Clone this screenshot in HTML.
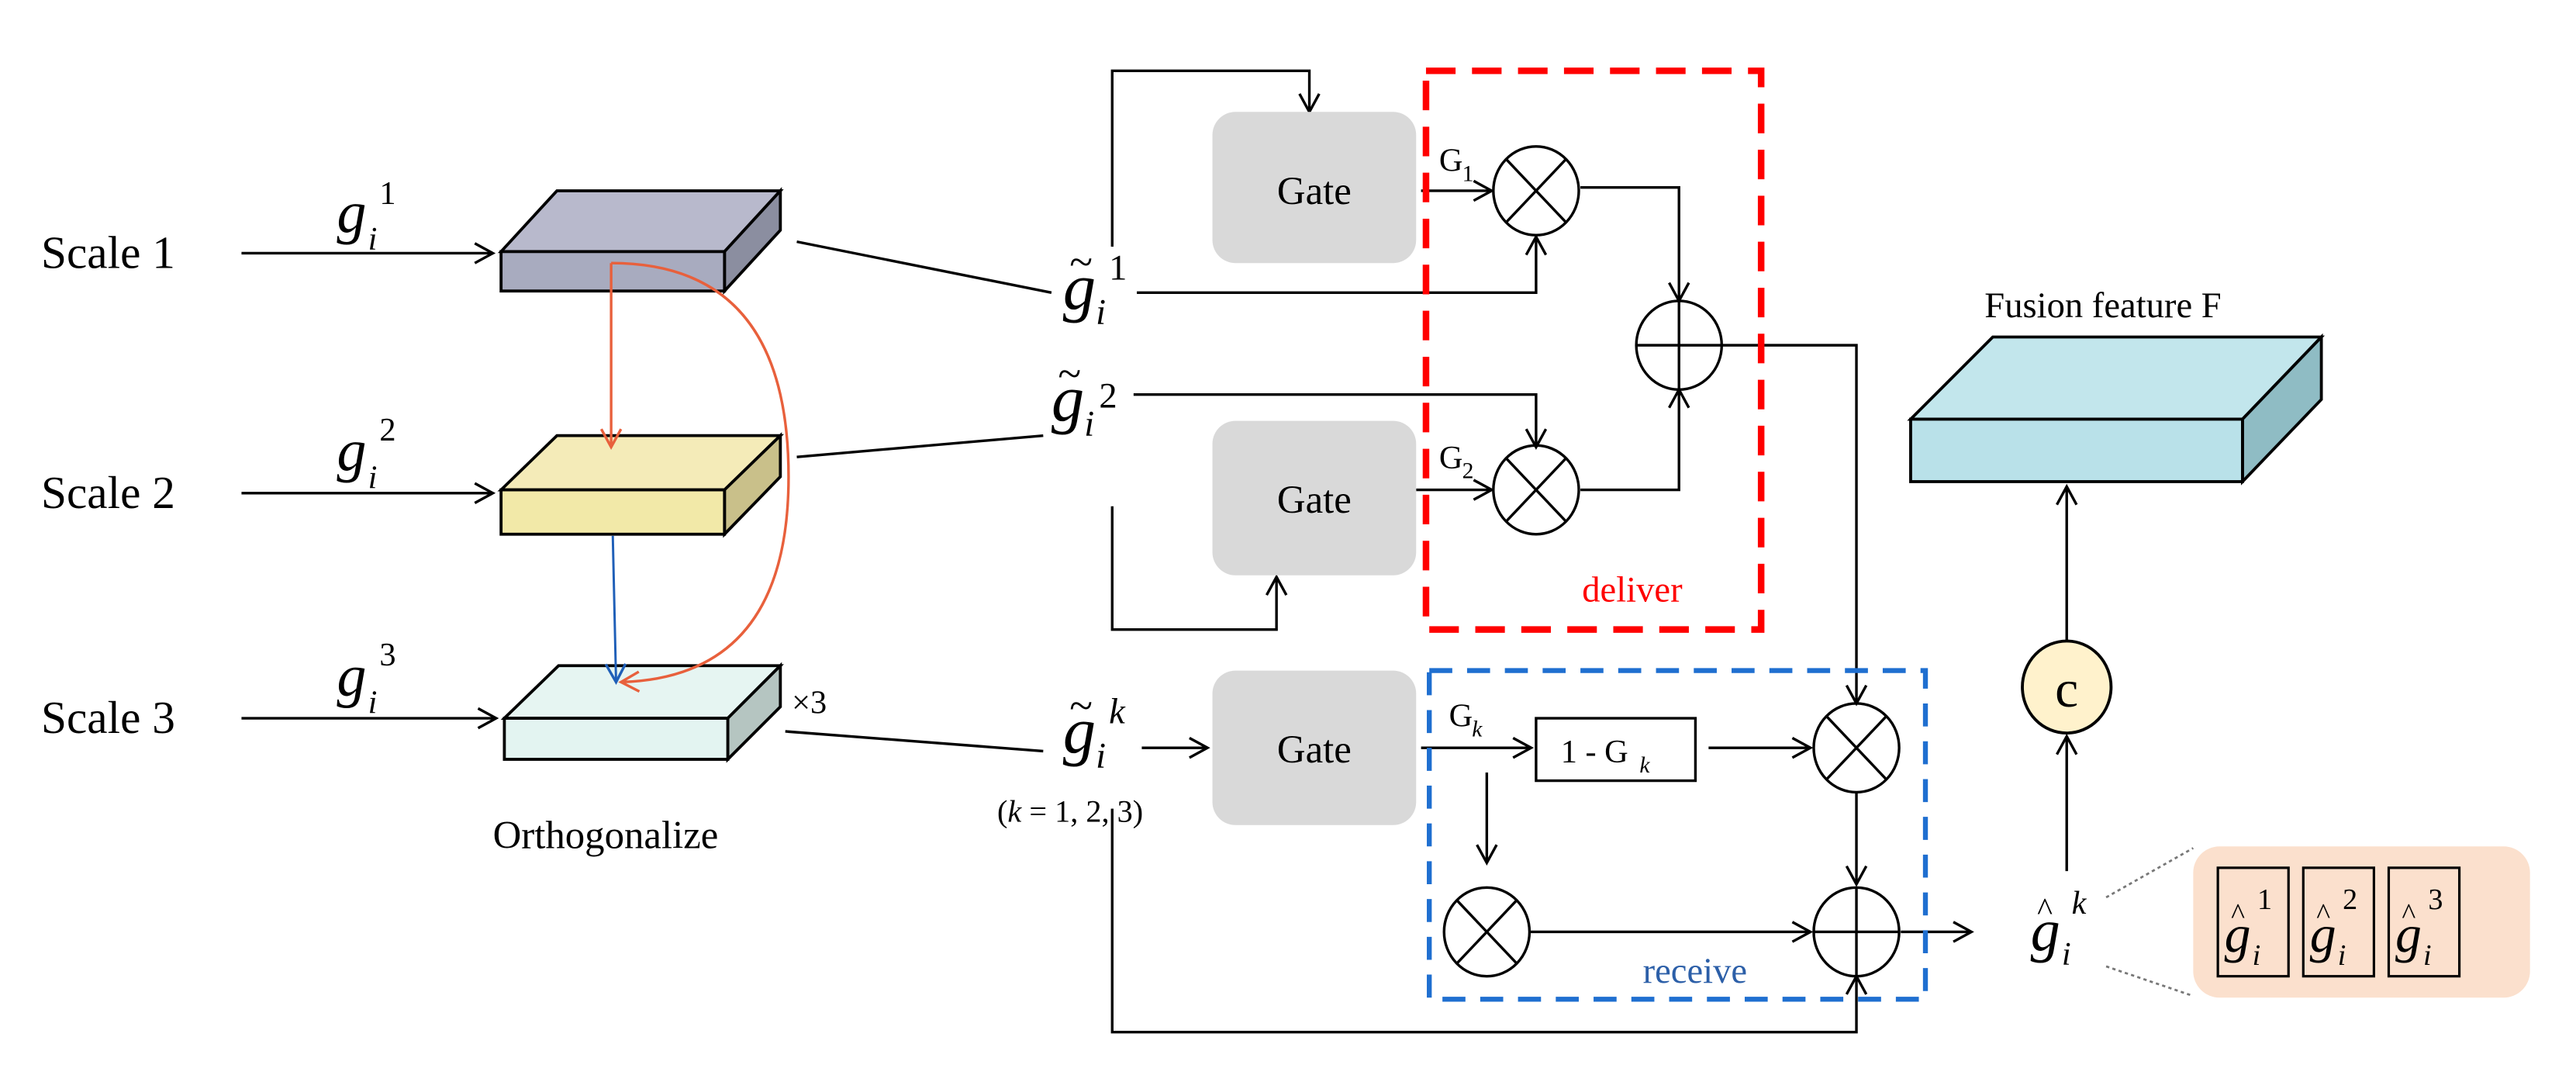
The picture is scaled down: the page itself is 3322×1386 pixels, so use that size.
<!DOCTYPE html>
<html><head><meta charset="utf-8"><style>
html,body{margin:0;padding:0;background:#fff;}
svg{display:block;}
text{font-family:"Liberation Serif",serif;}
.it{font-style:italic;}
</style></head><body>
<svg width="3322" height="1386" viewBox="0 0 1568 654" xmlns="http://www.w3.org/2000/svg">
<defs>
<marker id="a" markerWidth="14" markerHeight="14" refX="12" refY="7" orient="auto" markerUnits="userSpaceOnUse">
<path d="M1,1 L12,7 L1,13" fill="none" stroke="#000" stroke-width="1.6"/></marker>
<marker id="ao" markerWidth="14" markerHeight="14" refX="12" refY="7" orient="auto" markerUnits="userSpaceOnUse">
<path d="M1,1 L12,7 L1,13" fill="none" stroke="#e8603c" stroke-width="1.6"/></marker>
<marker id="ab" markerWidth="14" markerHeight="14" refX="12" refY="7" orient="auto" markerUnits="userSpaceOnUse">
<path d="M1,1 L12,7 L1,13" fill="none" stroke="#1f5fb8" stroke-width="1.6"/></marker>
</defs>
<g fill="none" stroke="#000" stroke-width="1.6">
<line x1="147" y1="154" x2="300" y2="154" marker-end="url(#a)"/>
<line x1="147" y1="300" x2="300" y2="300" marker-end="url(#a)"/>
<line x1="147" y1="437" x2="302" y2="437" marker-end="url(#a)"/>
</g>
<text x="25" y="163" font-size="28">Scale 1</text>
<text x="25" y="309" font-size="28">Scale 2</text>
<text x="25" y="446" font-size="28">Scale 3</text>
<g font-size="36" class="it"><text x="205" y="141" class="it">g</text><text x="205" y="286" class="it">g</text><text x="205" y="423" class="it">g</text></g>
<g font-size="20" class="it"><text x="224" y="152" class="it">i</text><text x="224" y="297" class="it">i</text><text x="224" y="434" class="it">i</text></g>
<g font-size="20"><text x="231" y="124">1</text><text x="231" y="268">2</text><text x="231" y="405">3</text></g>
<g stroke="#000" stroke-width="1.8">
<polygon points="305,153 339,116 475,116 441,153" fill="#b8b9cc"/>
<polygon points="441,153 475,116 475,140 441,177" fill="#8b8ea0"/>
<rect x="305" y="153" width="136" height="24" fill="#a8abbf"/>
<polygon points="305,298 339,265 475,265 441,298" fill="#f4ebb8"/>
<polygon points="441,298 475,265 475,290 441,325" fill="#c9c08a"/>
<rect x="305" y="298" width="136" height="27" fill="#f2e9a8"/>
<polygon points="307,437 340,405 475,405 443,437" fill="#e6f5f2"/>
<polygon points="443,437 475,405 475,430 443,462" fill="#b5c5c1"/>
<rect x="307" y="437" width="136" height="25" fill="#e3f4f1"/>
</g>
<line x1="372" y1="160" x2="372" y2="272" stroke="#e8603c" stroke-width="1.6" marker-end="url(#ao)"/>
<path d="M372,160 Q480,160 480,290 Q480,412 378,415" fill="none" stroke="#e8603c" stroke-width="1.6" marker-end="url(#ao)"/>
<line x1="373" y1="326" x2="375" y2="415" stroke="#1f5fb8" stroke-width="1.4" marker-end="url(#ab)"/>
<text x="482" y="434" font-size="20">×3</text>
<text x="300" y="516" font-size="24">Orthogonalize</text>
<g fill="none" stroke="#000" stroke-width="1.6">
<line x1="485" y1="147" x2="640" y2="178"/>
<line x1="485" y1="278" x2="635" y2="265"/>
<line x1="478" y1="445" x2="635" y2="457"/>
<polyline points="677,150 677,43 797,43 797,68" marker-end="url(#a)"/>
<polyline points="677,308 677,383 777,383 777,351" marker-end="url(#a)"/>
<polyline points="677,492 677,628 1130,628 1130,594" marker-end="url(#a)"/>
<line x1="865" y1="116" x2="908" y2="116" marker-end="url(#a)"/>
<line x1="862" y1="298" x2="908" y2="298" marker-end="url(#a)"/>
<polyline points="692,178 935,178 935,144" marker-end="url(#a)"/>
<polyline points="690,240 935,240 935,272" marker-end="url(#a)"/>
<polyline points="962,114 1022,114 1022,183" marker-end="url(#a)"/>
<polyline points="962,298 1022,298 1022,237" marker-end="url(#a)"/>
<polyline points="1048,210 1130,210 1130,428" marker-end="url(#a)"/>
<ellipse cx="935" cy="116" rx="26" ry="27"/>
<line x1="917" y1="97" x2="953" y2="135"/><line x1="953" y1="97" x2="917" y2="135"/>
<ellipse cx="935" cy="298" rx="26" ry="27"/>
<line x1="917" y1="279" x2="953" y2="317"/><line x1="953" y1="279" x2="917" y2="317"/>
<ellipse cx="1022" cy="210" rx="26" ry="27"/>
<line x1="996" y1="210" x2="1048" y2="210"/><line x1="1022" y1="183" x2="1022" y2="237"/>
<line x1="695" y1="455" x2="735" y2="455" marker-end="url(#a)"/>
<line x1="865" y1="455" x2="932" y2="455" marker-end="url(#a)"/>
<line x1="1040" y1="455" x2="1102" y2="455" marker-end="url(#a)"/>
<line x1="905" y1="470" x2="905" y2="525" marker-end="url(#a)"/>
<line x1="931" y1="567" x2="1102" y2="567" marker-end="url(#a)"/>
<line x1="1130" y1="482" x2="1130" y2="538" marker-end="url(#a)"/>
<line x1="1157" y1="567" x2="1200" y2="567" marker-end="url(#a)"/>
<rect x="935" y="437" width="97" height="38"/>
<ellipse cx="1130" cy="455" rx="26" ry="27"/>
<line x1="1112" y1="436" x2="1148" y2="474"/><line x1="1148" y1="436" x2="1112" y2="474"/>
<ellipse cx="905" cy="567" rx="26" ry="27"/>
<line x1="887" y1="548" x2="923" y2="586"/><line x1="923" y1="548" x2="887" y2="586"/>
<ellipse cx="1130" cy="567" rx="26" ry="27"/>
<line x1="1104" y1="567" x2="1156" y2="567"/><line x1="1130" y1="540" x2="1130" y2="594"/>
<line x1="1258" y1="530" x2="1258" y2="448" marker-end="url(#a)"/>
<line x1="1258" y1="390" x2="1258" y2="296" marker-end="url(#a)"/>
</g>
<g fill="#d9d9d9">
<rect x="738" y="68" width="124" height="92" rx="14"/>
<rect x="738" y="256" width="124" height="94" rx="14"/>
<rect x="738" y="408" width="124" height="94" rx="14"/>
</g>
<g font-size="24" text-anchor="middle"><text x="800" y="124">Gate</text><text x="800" y="312">Gate</text><text x="800" y="464">Gate</text></g>
<rect x="868" y="43" width="204" height="340" fill="none" stroke="#ff0000" stroke-width="4" stroke-dasharray="18,10"/>
<rect x="870" y="408" width="302" height="200" fill="none" stroke="#1f6fd0" stroke-width="3" stroke-dasharray="14,9"/>
<text x="963" y="366" font-size="22" fill="#ff0000">deliver</text>
<text x="1000" y="598" font-size="22" fill="#2c5fa8">receive</text>
<text x="876" y="104" font-size="20">G</text><text x="890" y="110" font-size="14">1</text>
<text x="876" y="285" font-size="20">G</text><text x="890" y="291" font-size="14">2</text>
<text x="882" y="442" font-size="20">G</text><text x="896" y="448" font-size="14" class="it">k</text>
<text x="950" y="464" font-size="20">1 - G</text><text x="998" y="470" font-size="14" class="it">k</text>
<g font-size="40" class="it"><text x="647" y="188" class="it">g</text><text x="640" y="256" class="it">g</text><text x="647" y="458" class="it">g</text></g>
<g font-size="26"><text x="651" y="168">~</text><text x="644" y="236">~</text><text x="651" y="438">~</text></g>
<g font-size="22" class="it"><text x="667" y="197" class="it">i</text><text x="660" y="265" class="it">i</text><text x="667" y="467" class="it">i</text></g>
<g font-size="22"><text x="675" y="170">1</text><text x="669" y="248">2</text><text x="675" y="440" class="it">k</text></g>
<text x="607" y="500" font-size="19">(<tspan class="it">k</tspan> = 1, 2, 3)</text>
<text x="1236" y="578" font-size="36" class="it">g</text><text x="1240" y="560" font-size="20">^</text>
<text x="1255" y="587" font-size="20" class="it">i</text><text x="1261" y="556" font-size="20" class="it">k</text>
<line x1="1282" y1="546" x2="1335" y2="516" stroke="#777" stroke-width="1.3" stroke-dasharray="2,2"/>
<line x1="1282" y1="588" x2="1335" y2="606" stroke="#777" stroke-width="1.3" stroke-dasharray="2,2"/>
<rect x="1335" y="515" width="205" height="92" rx="16" fill="#fbe0cd"/>
<g fill="none" stroke="#000" stroke-width="1.5">
<rect x="1350" y="528" width="43" height="66"/><rect x="1402" y="528" width="43" height="66"/><rect x="1454" y="528" width="43" height="66"/>
</g>
<g font-size="32" class="it"><text x="1354" y="579" class="it">g</text><text x="1406" y="579" class="it">g</text><text x="1458" y="579" class="it">g</text></g>
<g font-size="18"><text x="1358" y="562">^</text><text x="1410" y="562">^</text><text x="1462" y="562">^</text>
<text x="1374" y="553">1</text><text x="1426" y="553">2</text><text x="1478" y="553">3</text></g>
<g font-size="18" class="it"><text x="1371" y="587" class="it">i</text><text x="1423" y="587" class="it">i</text><text x="1475" y="587" class="it">i</text></g>
<ellipse cx="1258" cy="418" rx="27" ry="28" fill="#fff2cc" stroke="#000" stroke-width="1.8"/>
<text x="1258" y="430" font-size="32" text-anchor="middle">c</text>
<g stroke="#000" stroke-width="1.8">
<polygon points="1163,255 1213,205 1413,205 1365,255" fill="#c2e6ec"/>
<polygon points="1365,255 1413,205 1413,243 1365,293" fill="#8fbcc4"/>
<rect x="1163" y="255" width="202" height="38" fill="#b9e1e9"/>
</g>
<text x="1208" y="193" font-size="22">Fusion feature  F</text>
</svg>
</body></html>
